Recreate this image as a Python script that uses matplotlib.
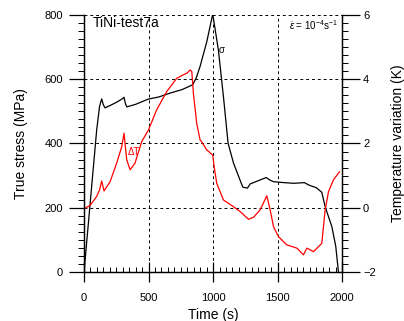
import matplotlib
matplotlib.use('Agg')
import matplotlib.pyplot as plt
from matplotlib.ticker import MultipleLocator

plt.rcParams['font.family'] = ['Liberation Sans', 'DejaVu Sans']
plt.rcParams['mathtext.fontset'] = 'custom'
plt.rcParams['mathtext.rm'] = 'Liberation Sans'
plt.rcParams['mathtext.it'] = 'Liberation Sans:italic'

# stress curve (MPa) vs time (s)
t_stress = [0, 50, 98, 120, 137, 150, 163, 200, 250, 300, 310, 320, 331, 400, 496, 580,
            667, 760, 842, 870, 899, 951, 997, 1041, 1080, 1116, 1158, 1200, 1230,
            1266, 1287, 1350, 1411, 1440, 1468, 1550, 1623, 1708, 1739, 1800, 1842,
            1868, 1920, 1950, 1971]
stress = [0, 225, 442, 515, 539, 520, 511, 518, 528, 540, 544, 525, 514, 522, 538, 545,
          557, 568, 583, 605, 640, 717, 803, 691, 546, 401, 339, 295, 264,
          261, 274, 284, 294, 286, 281, 278, 276, 278, 271, 262, 248,
          203, 141, 80, 0]

# temperature variation (K) vs time (s)
t_temp = [0, 47, 98, 120, 137, 155, 202, 253, 292, 310, 320, 331, 357, 395, 447, 499,
          563, 641, 718, 770, 800, 822, 835, 847, 873, 899, 912, 951, 997, 1008,
          1028, 1080, 1158, 1209, 1274, 1313, 1364, 1416, 1442, 1468, 1506, 1571,
          1649, 1700, 1726, 1778, 1842, 1868, 1894, 1933, 1979]
temp = [-0.03, 0.07, 0.35, 0.55, 0.83, 0.52, 0.81, 1.39, 1.90, 2.32, 1.90, 1.49, 1.18,
        1.39, 2.06, 2.42, 3.05, 3.62, 4.03, 4.14, 4.20, 4.29, 4.24, 3.57, 2.63, 2.11,
        2.05, 1.80, 1.64, 1.28, 0.76, 0.24, 0.03, -0.12, -0.36, -0.30, -0.07, 0.37,
        -0.07, -0.59, -0.90, -1.16, -1.26, -1.47, -1.26, -1.37, -1.11, -0.07, 0.50,
        0.87, 1.12]

fig = plt.figure(figsize=(4.04, 3.21), dpi=100)
ax1 = fig.add_axes([0.208, 0.153, 0.639, 0.8])
ax2 = ax1.twinx()

ax1.plot(t_stress, stress, color='black', lw=0.9)
ax2.plot(t_temp, temp, color='red', lw=0.9)

ax1.set_xlim(0, 2000)
ax1.set_ylim(0, 800)
ax2.set_ylim(-2, 6)

ax1.xaxis.set_major_locator(MultipleLocator(500))
ax1.xaxis.set_minor_locator(MultipleLocator(50))
ax1.yaxis.set_major_locator(MultipleLocator(200))
ax1.yaxis.set_minor_locator(MultipleLocator(25))
ax2.yaxis.set_major_locator(MultipleLocator(2))
ax2.yaxis.set_minor_locator(MultipleLocator(0.25))

for ax in (ax1, ax2):
    ax.spines['top'].set_visible(False)
    for s in ax.spines.values():
        s.set_linewidth(0.9)

# x axis: long ticks crossing the axis, short ones inside
ax1.tick_params(axis='x', which='major', direction='inout', length=15, width=0.9,
                labelsize=8, pad=8)
ax1.tick_params(axis='x', which='minor', direction='in', length=3.6, width=0.7)
# y axes: ticks outside
ax1.tick_params(axis='y', which='major', direction='out', length=11, width=0.9,
                labelsize=8, pad=4)
ax1.tick_params(axis='y', which='minor', direction='out', length=4, width=0.7)
ax2.tick_params(axis='y', which='major', direction='out', length=13, width=0.9,
                labelsize=8, pad=2)
ax2.tick_params(axis='y', which='minor', direction='out', length=4, width=0.7)

ax1.grid(True, which='major', color='black', linestyle=(0, (3, 3)), linewidth=0.7)
ax1.set_axisbelow(True)

ax1.set_xlabel('Time (s)', fontsize=10)
ax1.set_ylabel('True stress (MPa)', fontsize=10)
ax2.set_ylabel('Temperature variation (K)', fontsize=10)
ax1.xaxis.set_label_coords(0.5, -0.14)
ax1.yaxis.set_label_coords(-0.218, 0.5)
ax2.yaxis.set_label_coords(1.19, 0.5)

ax1.text(0.035, 0.97, 'TiNi-test7a', transform=ax1.transAxes, fontsize=10,
         ha='left', va='center')
ax1.text(0.985, 0.962, r'$\dot{\varepsilon}$ = 10$^{-4}$s$^{-1}$', transform=ax1.transAxes,
         fontsize=7, ha='right', va='center')
ax1.text(1065, 690, 'σ', fontsize=7, ha='center', va='center')
ax2.text(384, 1.72, 'ΔT', fontsize=7, color='red', ha='center', va='center')

fig.savefig('out.png', dpi=100)
